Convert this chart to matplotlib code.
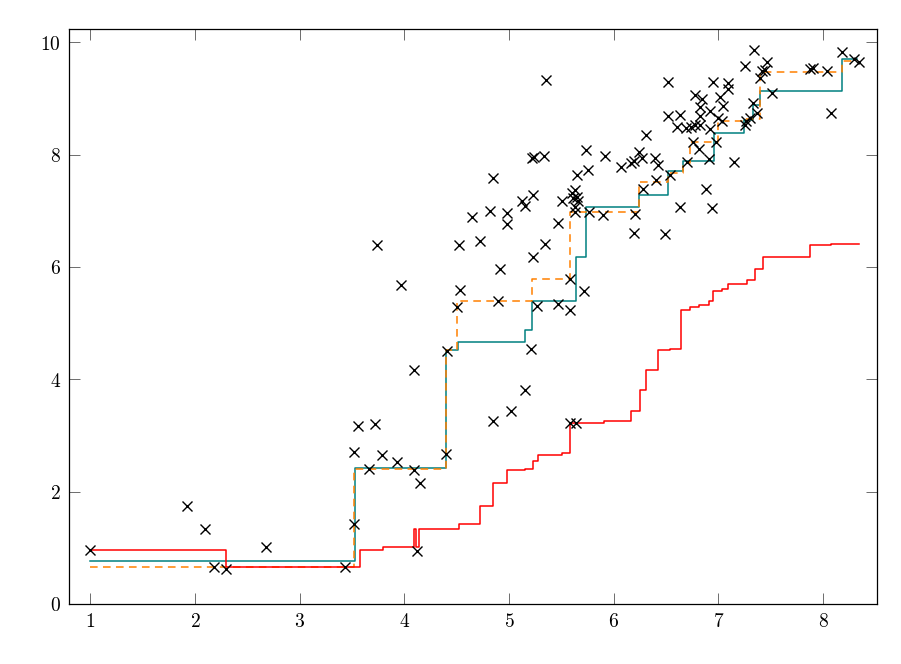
import matplotlib
matplotlib.use("Agg")
import matplotlib.pyplot as plt
from matplotlib.ticker import FuncFormatter

plt.rcParams['mathtext.fontset'] = 'cm'

# scatter observations
pts_x = [1.00, 1.92, 2.10, 2.18, 2.30, 2.68, 3.43, 3.52, 3.52, 3.56, 3.66, 3.72, 3.74, 3.79, 3.93,
         3.97, 4.09, 4.09, 4.12, 4.15, 4.40, 4.41, 4.53, 4.50, 4.52, 4.65, 4.72, 4.82, 4.85, 4.85,
         4.89, 4.91, 4.98, 4.98, 5.02, 5.12, 5.15, 5.15, 5.21, 5.22, 5.24, 5.23, 5.23, 5.27, 5.33,
         5.34, 5.35, 5.47, 5.47, 5.51, 5.58, 5.58, 5.58, 5.64, 5.60, 5.63, 5.65, 5.61, 5.66, 5.63,
         5.63, 5.65, 5.72, 5.73, 5.75, 5.76, 5.90, 5.92, 6.07, 6.16, 6.19, 6.24, 6.27, 6.39, 6.42,
         6.40, 6.28, 6.54, 6.70, 6.81, 6.76, 6.98, 6.91, 7.15, 6.88, 6.63, 6.94, 6.20, 6.19, 6.49,
         6.31, 6.52, 6.95, 7.09, 7.09, 7.01, 7.04, 7.00, 6.78, 6.84, 6.82, 6.82, 6.92, 6.52, 6.63,
         6.60, 6.69, 6.74, 6.78, 6.82, 6.92, 7.03, 7.34, 7.25, 7.46, 7.44, 7.42, 7.40, 7.51, 7.33,
         7.37, 7.30, 7.26, 7.25, 7.87, 7.90, 8.04, 8.07, 8.18, 8.29, 8.34]
pts_y = [0.96, 1.75, 1.33, 0.66, 0.62, 1.02, 0.66, 1.42, 2.70, 3.17, 2.40, 3.20, 6.39, 2.66, 2.53,
         5.68, 4.17, 2.39, 0.94, 2.16, 2.67, 4.51, 5.59, 5.29, 6.39, 6.88, 6.47, 7.00, 7.58, 3.25,
         5.39, 5.96, 6.96, 6.76, 3.44, 7.17, 7.09, 3.81, 4.53, 7.93, 7.96, 7.28, 6.18, 5.31, 7.98,
         6.40, 9.33, 5.34, 6.78, 7.17, 5.78, 5.23, 3.23, 3.22, 7.32, 7.37, 7.25, 7.22, 7.18, 7.07,
         6.97, 7.64, 5.57, 8.08, 7.72, 6.98, 6.93, 7.98, 7.77, 7.85, 7.88, 8.05, 7.94, 7.93, 7.82,
         7.54, 7.38, 7.64, 7.86, 8.10, 8.23, 8.23, 7.92, 7.87, 7.38, 7.06, 7.04, 6.94, 6.61, 6.59,
         8.34, 9.29, 9.30, 9.28, 9.16, 9.03, 8.87, 8.65, 9.06, 8.99, 8.85, 8.69, 8.78, 8.69, 8.71,
         8.49, 8.47, 8.49, 8.53, 8.53, 8.45, 8.59, 9.87, 9.58, 9.65, 9.51, 9.48, 9.36, 9.10, 8.92,
         8.74, 8.65, 8.59, 8.53, 9.52, 9.54, 9.48, 8.74, 9.82, 9.70, 9.64]

# teal step series (post steps, last point = end)
teal_x = [1.00, 3.525, 4.40, 4.51, 5.15, 5.22, 5.64, 5.73, 6.24, 6.52, 6.66, 6.96, 7.24, 7.33, 7.40, 8.18, 8.32]
teal_y = [0.76, 2.42, 4.52, 4.67, 4.88, 5.39, 6.17, 7.07, 7.28, 7.71, 7.89, 8.38, 8.62, 8.88, 9.13, 9.70, 9.70]

# orange dashed step series
orange_x = [1.00, 3.52, 4.40, 4.50, 5.22, 5.58, 6.24, 6.52, 6.66, 6.73, 7.00, 7.25, 7.40, 8.18, 8.32]
orange_y = [0.66, 2.40, 4.52, 5.39, 5.78, 6.98, 7.52, 7.67, 7.85, 8.23, 8.60, 8.64, 9.47, 9.67, 9.67]

# red step series
red_x = [1.00, 2.30, 3.58, 3.80, 4.09, 4.115, 4.14, 4.52, 4.72, 4.85, 4.98, 5.15, 5.23, 5.28, 5.51,
         5.58, 5.73, 5.91, 6.16, 6.25, 6.31, 6.42, 6.54, 6.64, 6.73, 6.81, 6.91, 6.95, 7.03, 7.09,
         7.27, 7.35, 7.43, 7.87, 8.07, 8.34]
red_y = [0.96, 0.66, 0.96, 1.02, 1.33, 1.02, 1.33, 1.42, 1.75, 2.15, 2.39, 2.40, 2.55, 2.66, 2.69,
         3.22, 3.23, 3.26, 3.44, 3.81, 4.17, 4.52, 4.53, 5.23, 5.29, 5.33, 5.39, 5.57, 5.60, 5.69,
         5.77, 5.96, 6.18, 6.39, 6.40, 6.40]

x_ticks = [1, 2, 3, 4, 5, 6, 7, 8]
y_ticks = [0, 2, 4, 6, 8, 10]

fig = plt.figure(figsize=(9.01, 6.64), dpi=100)
ax = fig.add_axes([0.0766, 0.0904, 0.973 - 0.0766, 0.9559 - 0.0904])

ax.step(teal_x, teal_y, where='post', color=(0.0, 0.5, 0.5), lw=1.1, zorder=2)
ax.step(orange_x, orange_y, where='post', color=(1.0, 0.5, 0.0), lw=1.1, dashes=(5, 3.5), zorder=3)
ax.step(red_x, red_y, where='post', color='red', lw=1.1, zorder=4)
ax.plot(pts_x, pts_y, linestyle='none', marker='x', color='black', markersize=7, mew=1.0, zorder=5)

ax.set_xlim(0.797, 8.511)
ax.set_ylim(0, 10.23)
ax.set_xticks(x_ticks)
ax.set_yticks(y_ticks)
fmt = FuncFormatter(lambda v, p: r'$%d$' % int(round(v)))
ax.xaxis.set_major_formatter(fmt)
ax.yaxis.set_major_formatter(fmt)
ax.tick_params(direction='in', length=8, width=0.6, color='#555555', labelsize=14,
               top=True, right=True, pad=6)
for s in ax.spines.values():
    s.set_linewidth(0.9)
    s.set_color('black')

fig.savefig('out.png', dpi=100)
